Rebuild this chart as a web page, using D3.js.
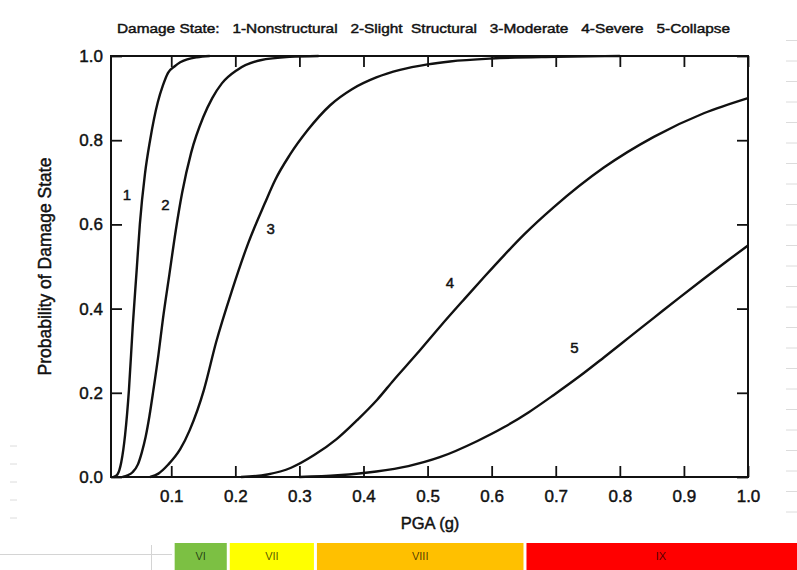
<!DOCTYPE html>
<html>
<head>
<meta charset="utf-8">
<script src="https://cdn.jsdelivr.net/npm/d3@7/dist/d3.min.js"></script>
<style>
body { margin: 0; background: #fff; }
text { font-family: "Liberation Sans", Arial, sans-serif; fill: #111; }
.thick { stroke: #111; stroke-width: 0.45px; }
</style>
</head>
<body>
<svg id="svg"></svg>
<script>
var width = 797, height = 570;

// damage state curves (PGA in g, probability)
var pga1 = [0.010, 0.016, 0.022, 0.028, 0.034, 0.040, 0.046, 0.051, 0.059, 0.067, 0.079, 0.087, 0.095, 0.105, 0.114, 0.125, 0.140, 0.160];
var prob1 = [0, 0.006, 0.035, 0.10, 0.207, 0.36, 0.49, 0.60, 0.72, 0.80, 0.89, 0.93, 0.96, 0.975, 0.985, 0.992, 0.997, 1.0];
var pga2 = [0.024, 0.032, 0.040, 0.048, 0.054, 0.060, 0.066, 0.072, 0.080, 0.087, 0.097, 0.107, 0.117, 0.131, 0.150, 0.164, 0.179, 0.203, 0.239, 0.285, 0.330];
var prob2 = [0, 0.004, 0.012, 0.030, 0.058, 0.095, 0.145, 0.205, 0.29, 0.375, 0.48, 0.585, 0.675, 0.77, 0.855, 0.90, 0.935, 0.967, 0.99, 0.998, 1.0];
var pga3 = [0.067, 0.080, 0.095, 0.114, 0.129, 0.151, 0.170, 0.195, 0.220, 0.246, 0.262, 0.285, 0.313, 0.348, 0.382, 0.420, 0.457, 0.500, 0.535, 0.600, 0.700, 0.800];
var prob3 = [0, 0.008, 0.029, 0.066, 0.112, 0.207, 0.320, 0.444, 0.555, 0.650, 0.705, 0.765, 0.824, 0.883, 0.921, 0.949, 0.967, 0.980, 0.987, 0.994, 0.998, 1.0];
var pga4 = [0.209, 0.250, 0.287, 0.323, 0.358, 0.390, 0.421, 0.447, 0.483, 0.521, 0.557, 0.590, 0.619, 0.650, 0.697, 0.775, 0.853, 0.931, 1.0];
var prob4 = [0, 0.006, 0.022, 0.052, 0.090, 0.135, 0.183, 0.230, 0.292, 0.360, 0.422, 0.478, 0.526, 0.575, 0.641, 0.735, 0.808, 0.864, 0.900];
var pga5 = [0.300, 0.360, 0.420, 0.470, 0.519, 0.577, 0.619, 0.658, 0.697, 0.736, 0.775, 0.814, 0.853, 0.892, 0.931, 0.970, 1.0];
var prob5 = [0, 0.004, 0.013, 0.026, 0.047, 0.085, 0.118, 0.154, 0.195, 0.238, 0.284, 0.331, 0.378, 0.425, 0.471, 0.516, 0.550];

var curveNames = ["1", "2", "3", "4", "5"];
var labelPga = [0.031, 0.091, 0.255, 0.535, 0.729];
var labelProb = [0.67, 0.646, 0.589, 0.461, 0.306];

var legendItems = ["Damage State:", "1-Nonstructural", "2-Slight  Structural", "3-Moderate", "4-Severe", "5-Collapse"];

var xTicks = [0.1, 0.2, 0.3, 0.4, 0.5, 0.6, 0.7, 0.8, 0.9, 1.0];
var yTicks = [0.0, 0.2, 0.4, 0.6, 0.8, 1.0];

// Modified Mercalli intensity bands under the axis
var mmiNames = ["VI", "VII", "VIII", "IX"];
var mmiStart = [0.103, 0.189, 0.325, 0.652];
var mmiEnd = [0.189, 0.325, 0.652, 1.08];
var mmiColors = ["#7cc043", "#ffff00", "#ffc000", "#ff0000"];

var svg = d3.select("#svg")
	.attr("width", width)
	.attr("height", height);

var x = d3.scaleLinear().domain([0.006, 1.0]).range([111, 748]);
var y = d3.scaleLinear().domain([0, 1]).range([477, 56]);

// faint spreadsheet grid leftovers
svg.append("line").attr("x1", 0).attr("x2", 172).attr("y1", 554.5).attr("y2", 554.5)
	.style("stroke", "#d4d4d4").style("stroke-width", 1);
svg.append("line").attr("x1", 151.5).attr("x2", 151.5).attr("y1", 545).attr("y2", 570)
	.style("stroke", "#d4d4d4").style("stroke-width", 1);
for (var i = 0; i < 24; i++) {
	svg.append("line").attr("x1", 786).attr("x2", 797)
		.attr("y1", 40.5 + i * 20.5).attr("y2", 40.5 + i * 20.5)
		.style("stroke", "#dcdcdc").style("stroke-width", 1);
}
for (var j = 0; j < 5; j++) {
	svg.append("line").attr("x1", 10).attr("x2", 17)
		.attr("y1", 446 + j * 18).attr("y2", 446 + j * 18)
		.style("stroke", "#dcdcdc").style("stroke-width", 1);
}

// legend line at the top
svg.append("text")
	.attr("x", 117)
	.attr("y", 33)
	.attr("xml:space", "preserve")
	.attr("textLength", 613)
	.attr("lengthAdjust", "spacingAndGlyphs")
	.style("font-size", "13.5px")
	.attr("class", "thick")
	.text(legendItems.join("   "));

// axes: ticks pointing inward on all four sides
svg.append("g")
	.attr("transform", "translate(0," + y(0) + ")")
	.call(d3.axisBottom(x).tickValues(xTicks).tickSize(-11).tickPadding(10).tickFormat(d3.format(".1f")))
	.call(function(g) {
		g.select(".domain").remove();
		g.selectAll("line").style("stroke", "#111").style("stroke-width", 1.8);
		g.selectAll("text").style("font-size", "17px").attr("class", "thick").attr("dy", "0.9em");
	});
svg.append("g")
	.attr("transform", "translate(0," + y(1) + ")")
	.call(d3.axisTop(x).tickValues(xTicks).tickSize(-11).tickFormat(""))
	.call(function(g) {
		g.select(".domain").remove();
		g.selectAll("line").style("stroke", "#111").style("stroke-width", 1.8);
	});
svg.append("g")
	.attr("transform", "translate(" + x.range()[0] + ",0)")
	.call(d3.axisLeft(y).tickValues(yTicks).tickSize(-11).tickPadding(8).tickFormat(d3.format(".1f")))
	.call(function(g) {
		g.select(".domain").remove();
		g.selectAll("line").style("stroke", "#111").style("stroke-width", 1.8);
		g.selectAll("text").style("font-size", "17px").attr("class", "thick");
	});
svg.append("g")
	.attr("transform", "translate(" + x.range()[1] + ",0)")
	.call(d3.axisRight(y).tickValues(yTicks).tickSize(-11).tickFormat(""))
	.call(function(g) {
		g.select(".domain").remove();
		g.selectAll("line").style("stroke", "#111").style("stroke-width", 1.8);
	});

svg.append("rect")
	.attr("x", x.range()[0])
	.attr("y", y(1))
	.attr("width", x.range()[1] - x.range()[0])
	.attr("height", y(0) - y(1))
	.style("fill", "none")
	.style("stroke", "#111")
	.style("stroke-width", 2);

// curves
var series = [[pga1, prob1], [pga2, prob2], [pga3, prob3], [pga4, prob4], [pga5, prob5]];
var line = d3.line()
	.x(function(d) { return x(d[0]); })
	.y(function(d) { return y(d[1]); })
	.curve(d3.curveMonotoneX);
svg.selectAll(".curve")
	.data(series)
	.enter()
	.append("path")
	.attr("class", "curve")
	.attr("d", function(s) { return line(d3.zip(s[0], s[1])); })
	.style("fill", "none")
	.style("stroke", "#111")
	.style("stroke-width", 2.4);

svg.selectAll(".clabel")
	.data(curveNames)
	.enter()
	.append("text")
	.attr("class", "clabel thick")
	.attr("x", function(d, i) { return x(labelPga[i]); })
	.attr("y", function(d, i) { return y(labelProb[i]); })
	.attr("dy", "0.35em")
	.style("text-anchor", "middle")
	.style("font-size", "15px")
	.text(function(d) { return d; });

// axis titles
svg.append("text")
	.attr("class", "thick")
	.attr("transform", "translate(51," + y(0.5) + ") rotate(-90)")
	.style("text-anchor", "middle")
	.style("font-size", "17.5px")
	.text("Probability of Damage State");
svg.append("text")
	.attr("class", "thick")
	.attr("x", 430)
	.attr("y", 529)
	.style("text-anchor", "middle")
	.style("font-size", "16.5px")
	.text("PGA (g)");

// intensity bar
var band = svg.selectAll(".band")
	.data(mmiNames)
	.enter()
	.append("g")
	.attr("class", "band");
band.append("rect")
	.attr("x", function(d, i) { return x(mmiStart[i]) + 1.5; })
	.attr("y", 543)
	.attr("width", function(d, i) { return x(mmiEnd[i]) - x(mmiStart[i]) - 3; })
	.attr("height", 30)
	.style("fill", function(d, i) { return mmiColors[i]; });
band.append("text")
	.attr("x", function(d, i) { return (Math.max(x(mmiStart[i]), 0) + Math.min(x(mmiEnd[i]), width)) / 2; })
	.attr("y", 560)
	.style("text-anchor", "middle")
	.style("font-size", "11px")
	.style("fill", "#000")
	.style("fill-opacity", 0.7)
	.text(function(d) { return d; });
</script>
</body>
</html>
